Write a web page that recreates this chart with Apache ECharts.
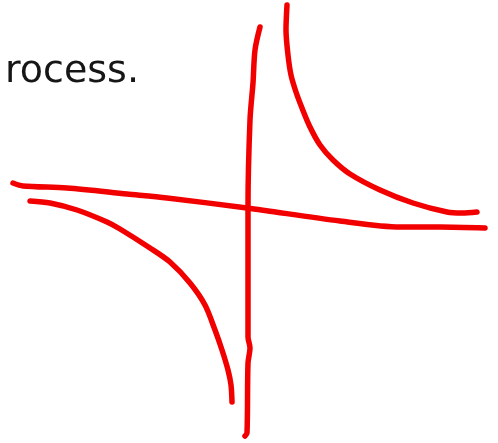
<!DOCTYPE html>
<html>
<head>
<meta charset="utf-8">
<script src="https://cdn.jsdelivr.net/npm/echarts@6/dist/echarts.min.js"></script>
<style>
  html, body { margin: 0; padding: 0; background: #fff; }
  #chart { width: 498px; height: 443px; }
</style>
</head>
<body>
<div id="chart"></div>
<script>
// Hand-sketched hyperbola y = k/x with its two axes, in a coordinate frame
// whose origin is where the sketched axes cross.
const captionText = 'rocess.';

const horizontalAxisStroke = [
  [-235, 25], [-225, 22], [-181, 20], [-121, 14], [-81, 10], [-1, 0],
  [92, -13], [152, -19], [192, -19], [237, -20]
];

const verticalAxisStroke = [
  [12, 181], [7, 158], [5, 125], [2, 88], [0, 0], [0, -129],
  [2, -140], [0, -155], [-1, -225], [-3, -228]
];

const upperBranch = [
  [39, 203], [38, 178], [40, 153], [43, 133], [48, 116], [54, 100],
  [62, 81], [72, 63], [85, 48], [102, 34], [132, 18], [165, 5],
  [199, -4], [214, -5], [229, -4]
];

const lowerBranch = [
  [-218, 7], [-198, 5], [-171, -2], [-141, -14], [-128, -21], [-98, -40],
  [-78, -54], [-58, -75], [-43, -97], [-33, -122], [-26, -142],
  [-20, -162], [-17, -177], [-16, -194]
];

const strokeColor = '#f20000';

function stroke(name, data) {
  return {
    name: name,
    type: 'line',
    data: data,
    smooth: 0.3,
    showSymbol: false,
    silent: true,
    animation: false,
    lineStyle: { color: strokeColor, width: 5.5, cap: 'round', join: 'round' }
  };
}

const chart = echarts.init(document.getElementById('chart'), null, { renderer: 'canvas' });
chart.setOption({
  backgroundColor: '#ffffff',
  animation: false,
  title: {
    text: captionText,
    left: 0,
    top: 48,
    textStyle: {
      fontFamily: 'DejaVu Sans',
      fontSize: 38,
      fontWeight: 'normal',
      color: '#161616'
    }
  },
  grid: { left: 0, right: 0, top: 0, bottom: 0 },
  xAxis: { type: 'value', min: -248, max: 250, show: false },
  yAxis: { type: 'value', min: -235, max: 208, show: false },
  series: [
    stroke('x-axis', horizontalAxisStroke),
    stroke('y-axis', verticalAxisStroke),
    stroke('upper branch', upperBranch),
    stroke('lower branch', lowerBranch)
  ]
});
</script>
</body>
</html>
